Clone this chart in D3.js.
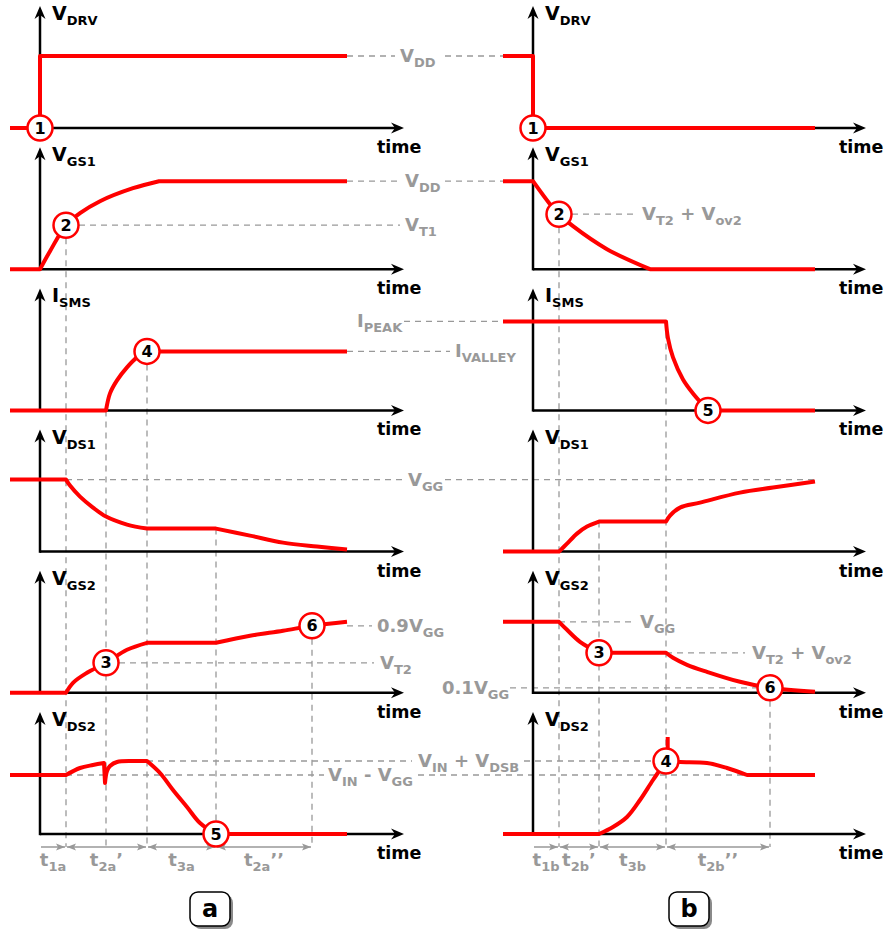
<!DOCTYPE html>
<html>
<head>
<meta charset="utf-8">
<script src="https://cdn.jsdelivr.net/npm/d3@7"></script>
<style>
  body { margin: 0; background: #fff; }
  text { font-family: "DejaVu Sans", sans-serif; font-weight: bold; white-space: pre; }
</style>
</head>
<body>
<svg id="chart" width="889" height="932"></svg>
<script>
// ---- data: time in arbitrary units, values normalised to each panel ----
const panelNames = ["V{DRV}", "V{GS1}", "I{SMS}", "V{DS1}", "V{GS2}", "V{DS2}"];

// waveforms, "l" = straight segment, "s" = smooth segment
const drvA  = [{c: "l", p: [[-3, 0], [0, 0], [0, 0.72], [30.7, 0.72]]}];
const vgs1A = [
  {c: "l", p: [[-3, 0], [0, 0]]},
  {c: "s", p: [[0, 0], [1.0, 0.18], [2.6, 0.44], [4.0, 0.56], [6.0, 0.68], [9.3, 0.81], [11.9, 0.88]]},
  {c: "l", p: [[11.9, 0.88], [30.7, 0.88]]}
];
const ismsA = [
  {c: "l", p: [[-3, 0], [6.6, 0]]},
  {c: "s", p: [[6.6, 0], [7.0, 0.17], [7.7, 0.30], [8.7, 0.43], [9.7, 0.53], [10.7, 0.59]]},
  {c: "l", p: [[10.7, 0.59], [30.7, 0.59]]}
];
const vds1A = [
  {c: "l", p: [[-3, 0.72], [2.6, 0.72]]},
  {c: "s", p: [[2.6, 0.72], [3.0, 0.66], [4.0, 0.55], [5.3, 0.44], [6.6, 0.35], [8.7, 0.27], [10.7, 0.23]]},
  {c: "l", p: [[10.7, 0.23], [17.6, 0.23]]},
  {c: "s", p: [[17.6, 0.23], [21.0, 0.16], [24.3, 0.09], [27.7, 0.05], [30.7, 0.02]]}
];
const vgs2A = [
  {c: "l", p: [[-3, 0], [2.6, 0]]},
  {c: "s", p: [[2.6, 0], [3.3, 0.10], [4.7, 0.20], [6.6, 0.30], [8.7, 0.43], [10.7, 0.50]]},
  {c: "l", p: [[10.7, 0.50], [17.6, 0.50]]},
  {c: "s", p: [[17.6, 0.50], [21.0, 0.57], [24.3, 0.62], [27.2, 0.67], [30.7, 0.71]]}
];
const vds2A = [
  {c: "l", p: [[-3, 0.59], [2.6, 0.59]]},
  {c: "s", p: [[2.6, 0.59], [4.0, 0.66], [5.3, 0.69], [6.4, 0.71]]},
  {c: "l", p: [[6.4, 0.71], [6.5, 0.51]]},
  {c: "s", p: [[6.5, 0.51], [6.7, 0.63], [7.0, 0.68], [7.7, 0.72], [9.3, 0.73], [10.7, 0.73]]},
  {c: "s", p: [[10.7, 0.73], [12.0, 0.61], [13.3, 0.44], [14.7, 0.27], [16.0, 0.11], [17.6, 0]]},
  {c: "l", p: [[17.6, 0], [30.7, 0]]}
];

const drvB  = [{c: "l", p: [[-3, 0.72], [0, 0.72], [0, 0], [28.2, 0]]}];
const vgs1B = [
  {c: "l", p: [[-3, 0.88], [0, 0.88]]},
  {c: "s", p: [[0, 0.88], [1.7, 0.65], [2.6, 0.55], [4.0, 0.43], [7.4, 0.20], [11.7, 0]]},
  {c: "l", p: [[11.7, 0], [28.2, 0]]}
];
const ismsB = [
  {c: "l", p: [[-3, 0.89], [13.3, 0.89]]},
  {c: "s", p: [[13.3, 0.89], [13.5, 0.72], [14.0, 0.53], [15.0, 0.31], [16.0, 0.17], [17.5, 0]]},
  {c: "l", p: [[17.5, 0], [28.2, 0]]}
];
const vds1B = [
  {c: "l", p: [[-3, 0], [2.6, 0]]},
  {c: "s", p: [[2.6, 0], [3.4, 0.08], [4.4, 0.18], [5.4, 0.25], [6.6, 0.30]]},
  {c: "l", p: [[6.6, 0.30], [13.3, 0.30]]},
  {c: "s", p: [[13.3, 0.30], [13.7, 0.36], [14.7, 0.44], [16.7, 0.49], [20.7, 0.59], [24.0, 0.64], [28.2, 0.70]]}
];
const vgs2B = [
  {c: "l", p: [[-3, 0.71], [2.6, 0.71]]},
  {c: "s", p: [[2.6, 0.71], [3.4, 0.63], [4.7, 0.51], [6.6, 0.40]]},
  {c: "l", p: [[6.6, 0.40], [13.3, 0.40]]},
  {c: "s", p: [[13.3, 0.40], [14.0, 0.35], [15.4, 0.28], [17.4, 0.21], [20.7, 0.11], [23.7, 0.05], [28.2, 0.01]]}
];
const vds2B = [
  {c: "l", p: [[-3, 0], [6.6, 0]]},
  {c: "s", p: [[6.6, 0], [8.0, 0.07], [9.4, 0.17], [10.7, 0.34], [12.0, 0.54], [13.3, 0.73]]},
  {c: "s", p: [[13.3, 0.73], [14.7, 0.72], [17.4, 0.71], [19.4, 0.66], [21.4, 0.59]]},
  {c: "l", p: [[21.4, 0.59], [28.2, 0.59]]}
];
const spikeB = [{c: "l", p: [[13.47, 0.73], [13.47, 0.97]]}];

const wavesA = [drvA, vgs1A, ismsA, vds1A, vgs2A, vds2A];
const wavesB = [drvB, vgs1B, ismsB, vds1B, vgs2B, vds2B];

// numbered markers: [number, panel, time, value]
const marksA = [[1, 0, 0, 0], [2, 1, 2.6, 0.44], [4, 2, 10.7, 0.59], [3, 4, 6.6, 0.30], [6, 4, 27.2, 0.67], [5, 5, 17.6, 0]];
const marksB = [[1, 0, 0, 0], [2, 1, 2.6, 0.55], [5, 2, 17.5, 0], [3, 4, 6.6, 0.40], [6, 4, 23.7, 0.05], [4, 5, 13.3, 0.73]];

// vertical dashed drops: [time, panel, value, starts under a marker]
const dropsA = [[2.6, 1, 0.44, true], [6.6, 2, 0, false], [10.7, 2, 0.59, true], [17.6, 3, 0.23, false], [27.2, 4, 0.67, true]];
const dropsB = [[2.6, 1, 0.55, true], [6.6, 3, 0.30, false], [13.3, 2, 0.89, false], [23.7, 4, 0.05, true]];

// horizontal level guides
const guidesA = [
  {p: 0, v: 0.72, dash: [[30.7, 35.5], [40.5, 46.3]], text: "V{DD}", at: 36.0},
  {p: 1, v: 0.88, dash: [[30.7, 36.0], [40.5, 46.3]], text: "V{DD}", at: 36.5},
  {p: 1, v: 0.44, dash: [[3.9, 36.0]], text: "V{T1}", at: 36.5},
  {p: 2, v: 0.59, dash: [[30.7, 41.0]], text: "I{VALLEY}", at: 41.5},
  {p: 3, v: 0.72, dash: [[2.6, 36.2], [40.5, 77.5]], text: "V{GG}", at: 36.8},
  {p: 4, v: 0.67, dash: [[30.7, 33.2]], text: "0.9V{GG}", at: 33.7},
  {p: 4, v: 0.30, dash: [[7.9, 33.4]], text: "V{T2}", at: 34.0},
  {p: 5, v: 0.73, dash: [[10.7, 37.2], [48.4, 61.2]], text: "V{IN} + V{DSB}", at: 37.8},
  {p: 5, v: 0.59, dash: [[2.6, 28.4], [37.8, 70.7]], text: "V{IN} - V{GG}", at: 28.8}
];
const guidesB = [
  {p: 1, v: 0.55, dash: [[3.9, 10.3]], text: "V{T2} + V{ov2}", at: 10.9},
  {p: 2, v: 0.89, dash: [[-12.9, -3]], text: "I{PEAK}", at: -17.6},
  {p: 4, v: 0.71, dash: [[2.6, 10.2]], text: "V{GG}", at: 10.7},
  {p: 4, v: 0.40, dash: [[13.3, 21.2]], text: "V{T2} + V{ov2}", at: 21.9},
  {p: 4, v: 0.05, dash: [[-2.3, 22.4]], text: "0.1V{GG}", at: -9.1}
];

// interval arrows under the last panel: [from, to, label, head at start]
const spansA = [[0, 2.6, "t{1a}", false], [2.6, 10.7, "t{2a}’", true], [10.7, 17.6, "t{3a}", true], [17.6, 27.2, "t{2a}’’", true]];
const spansB = [[0, 2.6, "t{1b}", false], [2.6, 6.6, "t{2b}’", true], [6.6, 13.3, "t{3b}", true], [13.3, 23.7, "t{2b}’’", true]];

const caseNames = ["a", "b"];

// ---- layout ----
const RED = "#ff0000", GREY = "#999999";
const svg = d3.select("#chart");
const base = d3.scaleLinear().domain([0, 5]).range([128, 834]);
const yOf = i => d3.scaleLinear().domain([0, 1.22]).range([base(i), base(i) - 122]);

const cols = [
  {x: d3.scaleLinear().domain([0, 36.4]).range([40, 404]), tEnd: 36.4,
   waves: wavesA, marks: marksA, drops: dropsA, guides: guidesA, spans: spansA, caseAt: 17.0},
  {x: d3.scaleLinear().domain([0, 33.3]).range([533, 866]), tEnd: 33.3,
   waves: wavesB, marks: marksB, drops: dropsB, guides: guidesB, spans: spansB, caseAt: 15.6}
];

// text with {subscript} parts
function rich(text, str, sub) {
  let down = false;
  str.split(/(\{[^}]*\})/).filter(s => s).forEach(p => {
    const isSub = p[0] === "{";
    const t = text.append("tspan").text(isSub ? p.slice(1, -1) : p);
    if (isSub) t.attr("font-size", sub).attr("dy", down ? 0 : 5);
    else t.attr("dy", down ? -5 : 0);
    down = isSub;
  });
}

const defs = svg.append("defs");
defs.append("marker")
  .attr("id", "ga").attr("viewBox", "-9 -4 10 8")
  .attr("refX", 0).attr("refY", 0)
  .attr("markerWidth", 10).attr("markerHeight", 8)
  .attr("markerUnits", "userSpaceOnUse").attr("orient", "auto-start-reverse")
  .append("path").attr("d", "M0,0 L-9,-3.6 L-7,0 L-9,3.6 Z").attr("fill", GREY);

const gGuide = svg.append("g");
const gAxis = svg.append("g");
const gWave = svg.append("g");
const gMark = svg.append("g");
const gText = svg.append("g");

const bottomY = base(5) + 13;

cols.forEach((col, ci) => {
  const x = col.x;

  // vertical drops
  col.drops.forEach(([t, p, v, under]) => {
    gGuide.append("line")
      .attr("x1", x(t)).attr("x2", x(t))
      .attr("y1", yOf(p)(v) + (under ? 13 : 0)).attr("y2", bottomY)
      .attr("stroke", GREY).attr("stroke-width", 1.3).attr("stroke-dasharray", "6,5");
  });

  // horizontal guides
  col.guides.forEach(g => {
    const y = yOf(g.p)(g.v);
    g.dash.forEach(([a, b]) => {
      gGuide.append("line")
        .attr("x1", x(a)).attr("x2", x(b)).attr("y1", y).attr("y2", y)
        .attr("stroke", GREY).attr("stroke-width", 1.3).attr("stroke-dasharray", "6,5");
    });
    const tx = gText.append("text").attr("x", x(g.at)).attr("y", y + 6)
      .attr("font-size", 18).attr("fill", GREY);
    rich(tx, g.text, 13);
  });

  // axes
  for (let i = 0; i < 6; i++) {
    const y = yOf(i), x0 = x(0), tip = x(col.tEnd), top = y(1.22);
    gAxis.append("line").attr("x1", x0).attr("x2", tip - 6).attr("y1", y(0)).attr("y2", y(0))
      .attr("stroke", "#000").attr("stroke-width", 2.5);
    gAxis.append("line").attr("x1", x0).attr("x2", x0).attr("y1", y(0) + 1.2).attr("y2", top + 6)
      .attr("stroke", "#000").attr("stroke-width", 2.5);
    gAxis.append("path").attr("transform", `translate(${tip},${y(0)})`)
      .attr("d", "M0,0 L-13,-5.5 L-9,0 L-13,5.5 Z").attr("fill", "#000");
    gAxis.append("path").attr("transform", `translate(${x0},${top}) rotate(-90)`)
      .attr("d", "M0,0 L-13,-5.5 L-9,0 L-13,5.5 Z").attr("fill", "#000");

    const lab = gText.append("text").attr("x", x0 + 12).attr("y", y(0) - 108)
      .attr("font-size", 19).attr("fill", "#000");
    rich(lab, panelNames[i], 13);

    gText.append("text").attr("x", tip - 27).attr("y", y(0) + 25)
      .attr("font-size", 17.5).attr("fill", "#000").text("time");
  }

  // waveforms
  const drawWave = (segs, i) => {
    const y = yOf(i);
    const d = segs.map((s, k) => {
      const gen = d3.line().x(q => x(q[0])).y(q => y(q[1]))
        .curve(s.c === "s" ? d3.curveCatmullRom.alpha(0.5) : d3.curveLinear);
      const part = gen(s.p);
      return k ? part.replace(/^M/, "L") : part;
    }).join("");
    gWave.append("path").attr("d", d).attr("fill", "none")
      .attr("stroke", RED).attr("stroke-width", 4).attr("stroke-linejoin", "round");
  };
  col.waves.forEach((segs, i) => drawWave(segs, i));
  if (ci === 1) drawWave(spikeB, 5);

  // markers
  col.marks.forEach(([n, p, t, v]) => {
    const cx = x(t), cy = yOf(p)(v);
    gMark.append("circle").attr("cx", cx).attr("cy", cy).attr("r", 12.5)
      .attr("fill", "#fff").attr("stroke", RED).attr("stroke-width", 2.5);
    gMark.append("text").attr("x", cx).attr("y", cy + 5.5).attr("text-anchor", "middle")
      .attr("font-size", 16).attr("fill", "#000").text(n);
  });

  // interval arrows
  col.spans.forEach(([a, b, label, both]) => {
    gGuide.append("line").attr("x1", x(a) + 1).attr("x2", x(b) - 1)
      .attr("y1", bottomY).attr("y2", bottomY)
      .attr("stroke", GREY).attr("stroke-width", 1.5)
      .attr("marker-end", "url(#ga)")
      .attr("marker-start", both ? "url(#ga)" : null);
    const tx = gText.append("text").attr("x", x((a + b) / 2)).attr("y", bottomY + 19)
      .attr("text-anchor", "middle").attr("font-size", 18).attr("fill", GREY);
    rich(tx, label, 13);
  });

  // case label box
  const bx = x(col.caseAt);
  gText.append("rect").attr("x", bx - 17).attr("y", 895).attr("width", 40).attr("height", 34)
    .attr("rx", 8).attr("fill", "#8a8a8a");
  gText.append("rect").attr("x", bx - 20).attr("y", 892).attr("width", 40).attr("height", 34)
    .attr("rx", 8).attr("fill", "#fff").attr("stroke", "#000").attr("stroke-width", 1.5);
  gText.append("text").attr("x", bx).attr("y", 917).attr("text-anchor", "middle")
    .attr("font-size", 24).attr("fill", "#000").text(caseNames[ci]);
});
</script>
</body>
</html>
